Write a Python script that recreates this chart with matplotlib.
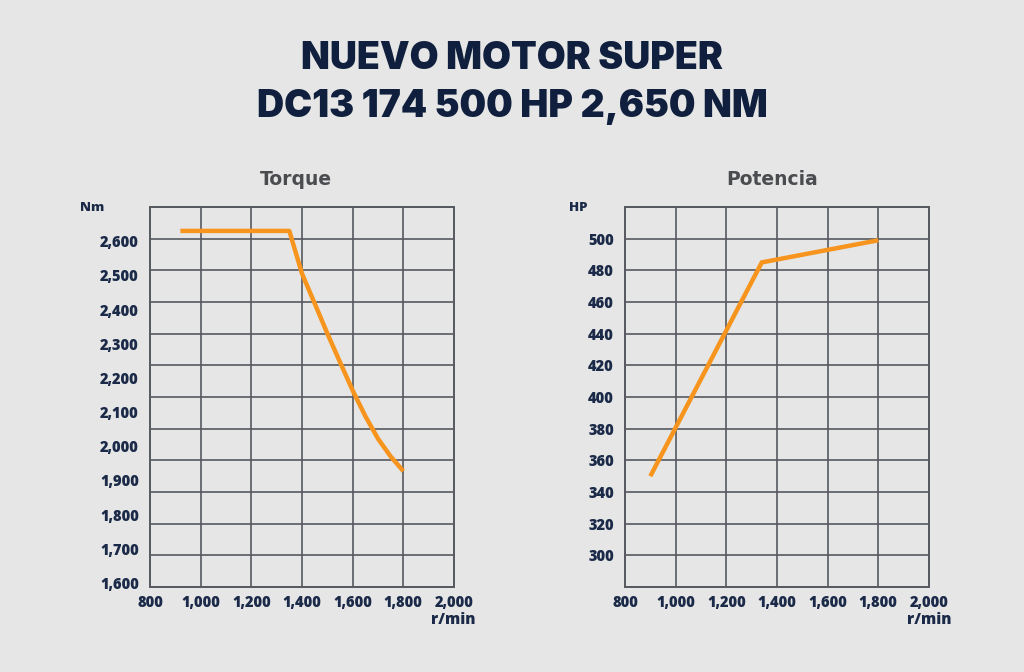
import numpy as np
import matplotlib
matplotlib.use("Agg")
import matplotlib.pyplot as plt
from matplotlib.ticker import FuncFormatter

# ---- data ----
title_lines = ["NUEVO MOTOR SUPER", "DC13 174 500 HP 2,650 NM"]
torque_rpm = [920, 1350, 1400, 1450, 1500, 1550, 1600, 1650, 1700, 1750, 1800]
torque_nm = [2630, 2630, 2505, 2418, 2330, 2246, 2163, 2088, 2022, 1970, 1927]
power_rpm = [900, 1340, 1800]
power_hp = [350, 485, 499]
x_ticks = [800, 1000, 1200, 1400, 1600, 1800, 2000]
torque_ticks = [1600, 1700, 1800, 1900, 2000, 2100, 2200, 2300, 2400, 2500, 2600]
power_ticks = [300, 320, 340, 360, 380, 400, 420, 440, 460, 480, 500]

BG = "#e5e6e5"
NAVY = "#0f1f3d"
TICK = "#1b2a48"
GRID = "#565a60"
ORANGE = "#f7941d"
SUB = "#4a4c50"
TICKFONT = "Open Sans"

fig = plt.figure(figsize=(10.24, 6.72), dpi=100, facecolor=BG)

fig.text(0.5, 1 - 59 / 672, title_lines[0], ha="center", va="center",
         fontsize=27, fontweight=900, family="Inter", color=NAVY)
fig.text(0.5, 1 - 107 / 672, title_lines[1], ha="center", va="center",
         fontsize=27, fontweight=900, family="Inter", color=NAVY)

comma = FuncFormatter(lambda v, p: f"{int(round(v)):,}")


def setup(ax, ylim, yticks, grid_y, unit, unit_x, title, title_x, rmin_x):
    ax.set_facecolor(BG)
    ax.set_xlim(800, 2000)
    ax.set_ylim(*ylim)
    ax.yaxis.remove_overlapping_locs = False
    ax.set_xticks(x_ticks)
    ax.set_yticks(yticks)
    ax.set_yticks(grid_y, minor=True)
    ax.xaxis.set_major_formatter(comma)
    ax.yaxis.set_major_formatter(comma)
    ax.tick_params(which="both", length=0)
    ax.tick_params(axis="x", pad=5.5)
    ax.tick_params(axis="y", pad=8)
    for lab in ax.get_xticklabels() + ax.get_yticklabels():
        lab.set_fontweight(800)
        lab.set_fontsize(10.5)
        lab.set_family(TICKFONT)
        lab.set_color(TICK)
    ax.grid(True, axis="x", which="major", color=GRID, lw=1.2)
    ax.grid(True, axis="y", which="minor", color=GRID, lw=1.2)
    ax.grid(False, axis="y", which="major")
    for s in ax.spines.values():
        s.set_color(GRID)
        s.set_linewidth(1.4)
    ax.set_axisbelow(True)
    fig.text(unit_x / 1024, 1 - 208 / 672, unit, ha="center", va="center",
             fontsize=9.5, fontweight=800, family=TICKFONT, color=TICK)
    fig.text(title_x / 1024, 1 - 180 / 672, title, ha="center", va="center",
             fontsize=13.5, fontweight="bold", family="DejaVu Sans", color=SUB)
    fig.text(rmin_x / 1024, 1 - 620 / 672, "r/min", ha="right", va="center",
             fontsize=11, fontweight=800, family=TICKFONT, color=TICK)


ax1 = fig.add_axes([150 / 1024, 85 / 672, 304 / 1024, 380 / 672])
setup(ax1, (1588, 2700), torque_ticks, np.linspace(1588, 2700, 13), "Nm", 92,
      "Torque", 296, 475)
ax1.plot(torque_rpm, torque_nm, color=ORANGE, lw=3.2, solid_capstyle="butt",
         solid_joinstyle="round", zorder=3)

ax2 = fig.add_axes([625 / 1024, 85 / 672, 304 / 1024, 380 / 672])
setup(ax2, (280, 520), power_ticks, np.arange(280, 521, 20), "HP", 578,
      "Potencia", 772, 952)
ax2.plot(power_rpm, power_hp, color=ORANGE, lw=3.2, solid_capstyle="butt",
         solid_joinstyle="miter", zorder=3)

fig.savefig("out.png", dpi=100, facecolor=BG)
